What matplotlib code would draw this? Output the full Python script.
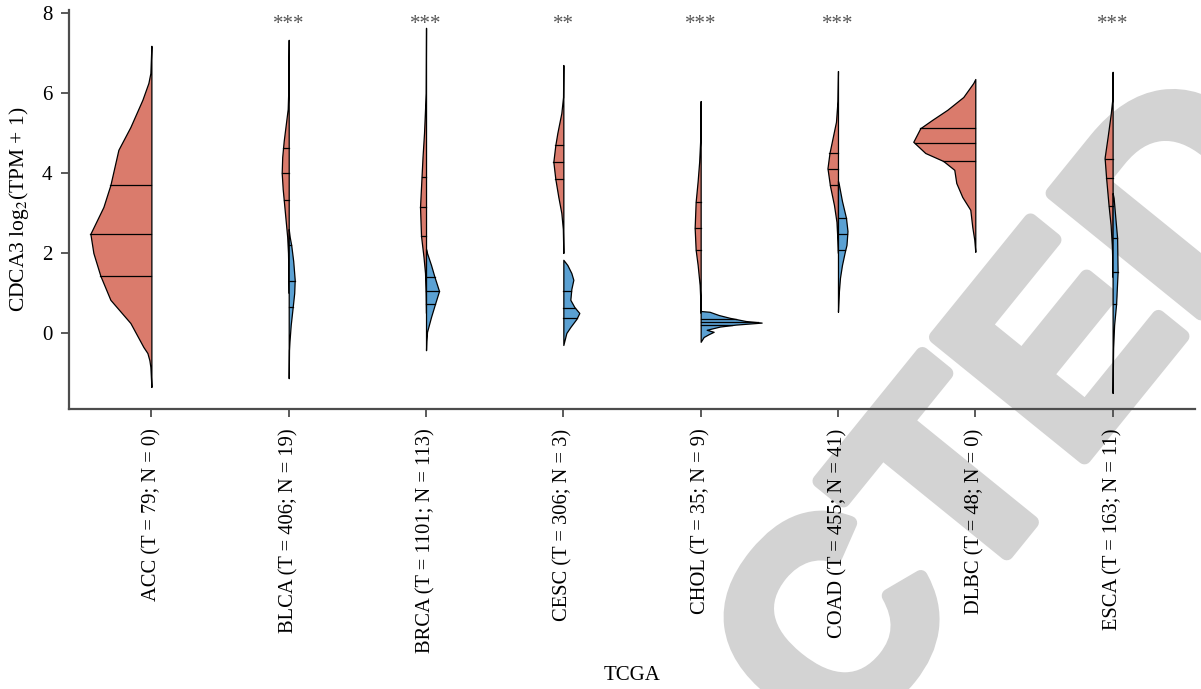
import matplotlib
matplotlib.use("Agg")
import matplotlib.pyplot as plt
import matplotlib.patheffects as pe
import numpy as np

plt.rcParams['font.family'] = ['Liberation Serif', 'DejaVu Serif']
plt.rcParams['mathtext.fontset'] = 'stix'

# cancer types and tick labels
labels = ["ACC (T = 79; N = 0)", "BLCA (T = 406; N = 19)", "BRCA (T = 1101; N = 113)",
          "CESC (T = 306; N = 3)", "CHOL (T = 35; N = 9)", "COAD (T = 455; N = 41)",
          "DLBC (T = 48; N = 0)", "ESCA (T = 163; N = 11)"]
stars = ["", "***", "***", "**", "***", "***", "", "***"]

# tumor halves: expression values and density
tumor_vals = [
    [7.18, 6.5, 6.25, 5.83, 5.15, 4.58, 3.7, 3.15, 2.48, 2.0, 1.43, 0.83, 0.25, -0.35, -0.5, -0.68, -0.85, -1.35],
    [7.33, 6.0, 5.6, 5.2, 4.8, 4.4, 4.0, 3.6, 3.2, 2.8, 2.4, 2.0, 1.5, 1.0],
    [7.63, 6.0, 5.7, 5.0, 4.4, 3.9, 3.15, 2.43, 1.9, 1.5, 1.0, 0.5],
    [6.7, 5.9, 5.5, 5.0, 4.7, 4.28, 3.85, 3.4, 3.0, 2.6, 2.0],
    [5.8, 4.8, 4.28, 3.8, 3.28, 2.63, 2.08, 1.7, 1.2, 0.8, 0.5],
    [6.55, 5.8, 5.28, 4.8, 4.5, 4.12, 3.68, 3.2, 2.78, 2.3, 2.0],
    [6.35, 6.25, 5.9, 5.58, 5.33, 5.12, 4.78, 4.5, 4.3, 4.08, 3.75, 3.4, 3.08, 2.65, 2.33, 2.03],
    [6.53, 5.8, 5.45, 4.9, 4.38, 3.88, 3.18, 2.7, 2.2, 1.8, 1.4],
]
tumor_dens = [
    [0, 1, 3, 9, 21, 33, 41, 48, 61, 58, 51, 41, 21, 8, 4, 2, 1, 0],
    [0, 0.5, 1, 3, 5, 6.5, 7, 6, 4.5, 3, 1.5, 0.7, 0.3, 0],
    [0, 0.3, 0.8, 2, 3.5, 4.5, 6, 5, 2.5, 1, 0.3, 0],
    [0, 0.3, 2, 6, 8, 10, 8, 5, 2, 0.5, 0],
    [0, 0.5, 1.5, 3, 5, 6, 5, 3, 1, 0.3, 0],
    [0, 0.5, 2, 6, 8.5, 10.5, 8, 4, 1.5, 0.5, 0],
    [0, 2, 12, 28, 43, 55, 62, 50, 32, 21, 19, 13, 5, 3, 1, 0],
    [0, 0.5, 2, 5, 8, 6.5, 4, 2, 0.8, 0.3, 0],
]
tumor_quart = [[1.43, 2.48, 3.7], [3.33, 4.0, 4.62], [2.43, 3.15, 3.9], [3.85, 4.28, 4.7],
               [2.08, 2.63, 3.28], [3.7, 4.1, 4.5], [4.3, 4.75, 5.12], [3.18, 3.88, 4.35]]

# normal halves (ACC and DLBC have no normal samples)
normal_vals = [
    None,
    [2.6, 2.4, 2.2, 1.8, 1.33, 1.0, 0.65, 0.2, -0.2, -0.43, -1.13],
    [2.1, 2.0, 1.7, 1.4, 1.05, 0.73, 0.4, 0.03, -0.2, -0.43],
    [1.83, 1.7, 1.5, 1.33, 1.1, 0.83, 0.65, 0.5, 0.35, 0.15, 0.0, -0.3],
    [0.55, 0.53, 0.45, 0.38, 0.3, 0.26, 0.21, 0.16, 0.08, 0.03, -0.03, -0.1, -0.22],
    [3.8, 3.7, 3.3, 2.88, 2.55, 2.2, 2.05, 1.7, 1.38, 1.0, 0.53],
    None,
    [3.5, 3.38, 2.8, 2.38, 1.53, 0.73, 0.2, -0.38, -1.0, -1.5],
]
normal_dens = [
    None,
    [0, 1, 2.5, 4.5, 6, 5.5, 4, 2, 0.8, 0.3, 0],
    [0, 1, 5, 8.5, 13, 9, 5, 1, 0.3, 0],
    [0, 4, 8, 10, 8, 7, 11, 16, 13, 7, 3, 0],
    [0, 9, 18, 29, 45, 61, 35, 19, 6, 13, 8, 3, 0],
    [0, 1, 4, 8, 9.5, 8.5, 7, 4, 2, 0.8, 0],
    None,
    [0, 1, 3, 4.5, 5, 3.5, 1.5, 0.5, 0.2, 0],
]
normal_quart = [None, [0.65, 1.3, 2.2], [0.73, 1.05, 1.4], [0.38, 0.63, 1.05],
                [0.2, 0.27, 0.35], [2.07, 2.48, 2.87], None, [0.73, 1.53, 2.38]]

red = "#DA7B6C"
blue = "#5BA1D3"
scale = 1 / 137.3  # density units -> x units

fig = plt.figure(figsize=(12.01, 6.89), dpi=100)

# RETRACTED stamp behind the plot
fig.text(0.60, -0.15, "RETRACTED", fontsize=200, rotation=51, color="#d3d3d3",
         ha="center", va="center", rotation_mode="anchor", fontweight="bold",
         family="Liberation Sans", zorder=-1,
         path_effects=[pe.withStroke(linewidth=10, foreground="#d3d3d3")])

ax = fig.add_axes([69 / 1201, 280 / 689, 1126 / 1201, 399.2 / 689])
ax.set_facecolor("none")


def half(pos, vals, dens, quart, side, color):
    v = np.array(vals)
    w = np.array(dens) * scale * side
    ax.fill_betweenx(v, pos, pos + w, facecolor=color, edgecolor="black", lw=0.9, zorder=2)
    # quartile lines go from the centre to the edge
    order = np.argsort(v)
    for q in quart:
        qw = np.interp(q, v[order], w[order])
        ax.plot([pos, pos + qw], [q, q], color="black", lw=0.9, zorder=3)


for i in range(len(labels)):
    half(i, tumor_vals[i], tumor_dens[i], tumor_quart[i], -1, red)
    if normal_vals[i] is not None:
        half(i, normal_vals[i], normal_dens[i], normal_quart[i], 1, blue)
    if stars[i]:
        ax.text(i, 7.72, stars[i], ha="center", va="center", fontsize=15, color="#555555")

ax.set_xlim(-0.6, 7.6)
ax.set_ylim(-1.9, 8.08)
ax.set_xticks(range(len(labels)))
ax.set_xticklabels(labels, rotation=90, fontsize=14.8)
ax.set_yticks([0, 2, 4, 6, 8])
ax.tick_params(axis="y", labelsize=15, length=6, width=1.3, color="#4d4d4d", pad=6)
ax.tick_params(axis="x", length=6, width=1.3, color="#4d4d4d", pad=8)
for s in ["top", "right"]:
    ax.spines[s].set_visible(False)
for s in ["left", "bottom"]:
    ax.spines[s].set_color("#4d4d4d")
    ax.spines[s].set_linewidth(1.6)
ax.set_ylabel("CDCA3 log$_2$(TPM + 1)", fontsize=15.5, labelpad=8)
ax.set_xlabel("TCGA", fontsize=15)
ax.xaxis.label.set_verticalalignment("center")
ax.xaxis.set_label_coords(0.5, -0.667)

fig.savefig("out.png", dpi=100)
